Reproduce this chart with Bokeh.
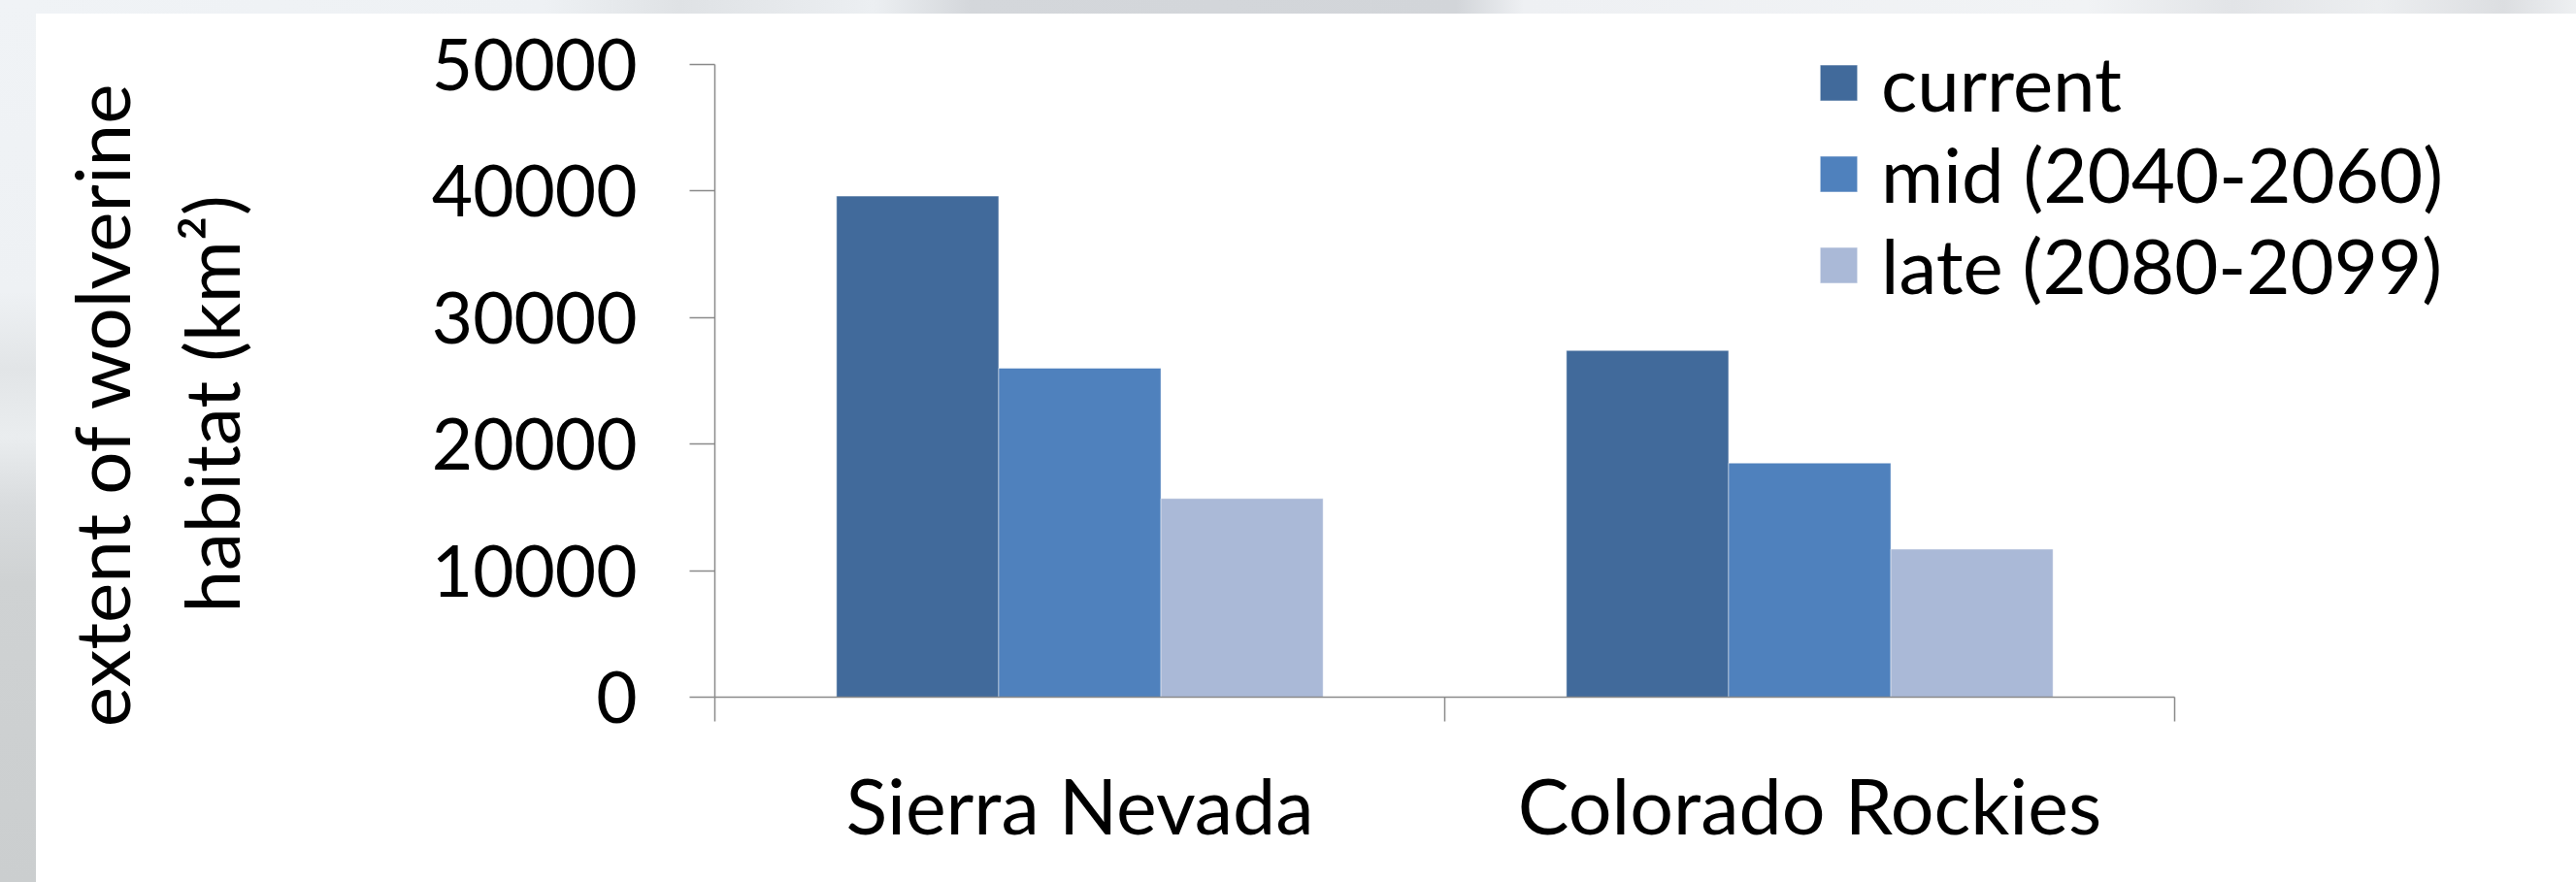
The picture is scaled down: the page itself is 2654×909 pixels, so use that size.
from bokeh.plotting import figure
from bokeh.models import (Range1d, LinearAxis, FixedTicker,
                          ColumnDataSource, Legend, LegendItem)
from bokeh.transform import dodge
from bokeh.embed import file_html
from bokeh.resources import INLINE

# ---- data ----
regions = ["Sierra Nevada", "Colorado Rockies"]
periods = ["current", "mid (2040-2060)", "late (2080-2099)"]
current = [39600, 27400]
mid = [26000, 18500]
late = [15700, 11700]
y_ticks = [0, 10000, 20000, 30000, 40000, 50000]
y_label_lines = ["extent of wolverine", "habitat (km²)"]

colors = ["#416A9B", "#4F81BD", "#AAB9D7"]
FONT = "Lato"
AXIS_GRAY = "#8a8a8a"

# category slots: centre of slot i is at i + 0.5 on the x scale
centres = [i + 0.5 for i in range(len(regions))]
bounds = [float(i) for i in range(len(regions) + 1)]

src = ColumnDataSource(dict(region=regions, xc=centres, current=current, mid=mid, late=late))

# layout (pixels): axis from x=736 to 2240, y from 718 (0) to 66 (top tick);
# the frame is extended right and up so the legend is not clipped
FRAME_L, CAT_W, FRAME_R = 736, 1504, 2620
FRAME_B, AXIS_TOP, FRAME_T = 718, 66, 34
x_end = len(regions) * (FRAME_R - FRAME_L) / CAT_W
y_top = y_ticks[-1]
y_end = y_top * (FRAME_B - FRAME_T) / (FRAME_B - AXIS_TOP)

p = figure(width=2654, height=909,
           x_range=Range1d(0, x_end), y_range=Range1d(0, y_end),
           x_axis_location=None,
           output_backend="svg", toolbar_location=None,
           min_border_left=FRAME_L, min_border_right=2654 - FRAME_R,
           min_border_top=FRAME_T, min_border_bottom=909 - FRAME_B)
p.border_fill_color = None
p.background_fill_color = "white"
p.outline_line_color = None
p.grid.visible = False
p.styles = {
    "background-color": "white",
    "background-image": (
        "linear-gradient(to bottom, #f0f3f6 0px, #eef1f4 300px, #e2e5e7 380px, "
        "#eaedef 450px, #d9dcde 520px, #cfd2d3 600px, #cbcecf 909px), "
        "linear-gradient(to right, #f0f3f6 0px, #eef1f4 560px, #dfe2e5 700px, "
        "#eceff2 900px, #d4d7db 1000px, #d2d5d9 1500px, #eef0f3 1570px, "
        "#f1f3f5 2150px, #e2e4e7 2300px, #eceef0 2450px, #dcdee1 2580px, #eef0f2 2654px)"
    ),
    "background-size": "37px 100%, 100% 14px",
    "background-repeat": "no-repeat",
    "background-position": "0 0, 0 0",
}

# ---- bars ----
w = 1 / 4.5
keys = ["current", "mid", "late"]
offsets = [-w, 0.0, w]
renderers = []
for key, off, col in zip(keys, offsets, colors):
    r = p.vbar(x=dodge("xc", off), top=key, width=w,
               source=src, fill_color=col, line_color="white",
               line_width=1, line_alpha=0.45)
    renderers.append(r)

# ---- y axis ----
ya = p.yaxis[0]
ya.bounds = (0, y_top)
ya.ticker = FixedTicker(ticks=y_ticks)
ya.major_label_overrides = {t: str(t) for t in y_ticks}
ya.major_tick_out = 26
ya.major_tick_in = 0
ya.minor_tick_line_color = None
ya.major_tick_line_color = AXIS_GRAY
ya.axis_line_color = AXIS_GRAY
ya.axis_line_width = 1.5
ya.major_tick_line_width = 1.5
ya.major_label_standoff = 54
ya.major_label_text_font = FONT
ya.major_label_text_font_size = "73px"
ya.major_label_text_color = "black"
# trailing no-break spaces nudge the rotated label slightly downwards
pad = "\u00a0" * 4
ya.axis_label = "\n".join(line + pad for line in y_label_lines)
ya.axis_label_text_font = FONT
ya.axis_label_text_font_size = "78px"
ya.axis_label_text_font_style = "normal"
ya.axis_label_text_color = "black"
ya.axis_label_standoff = 178
ya.axis_label_text_line_height = 1.2

# ---- x axis: labels at category centres, ticks at category boundaries ----
xa = LinearAxis(ticker=FixedTicker(ticks=centres, minor_ticks=bounds),
                bounds=(bounds[0], bounds[-1]))
xa.major_label_overrides = {c: r for c, r in zip(centres, regions)}
xa.major_tick_out = 0
xa.major_tick_in = 0
xa.minor_tick_out = 25
xa.minor_tick_in = 0
xa.minor_tick_line_color = AXIS_GRAY
xa.minor_tick_line_width = 1.5
xa.axis_line_color = AXIS_GRAY
xa.axis_line_width = 1.5
xa.major_label_standoff = 38
xa.major_label_text_font = FONT
xa.major_label_text_font_size = "79px"
xa.major_label_text_color = "black"
p.add_layout(xa, "below")

# ---- legend ----
legend = Legend(items=[LegendItem(label=n, renderers=[r]) for n, r in zip(periods, renderers)],
                location=(1134, 398), orientation="vertical",
                glyph_width=48, glyph_height=46, label_height=94, spacing=0,
                label_standoff=20, padding=0, margin=0,
                border_line_color=None, background_fill_alpha=0,
                label_text_font=FONT, label_text_font_size="78px",
                label_text_color="black")
p.add_layout(legend, "center")

open("out.html", "w").write(file_html(p, INLINE))
